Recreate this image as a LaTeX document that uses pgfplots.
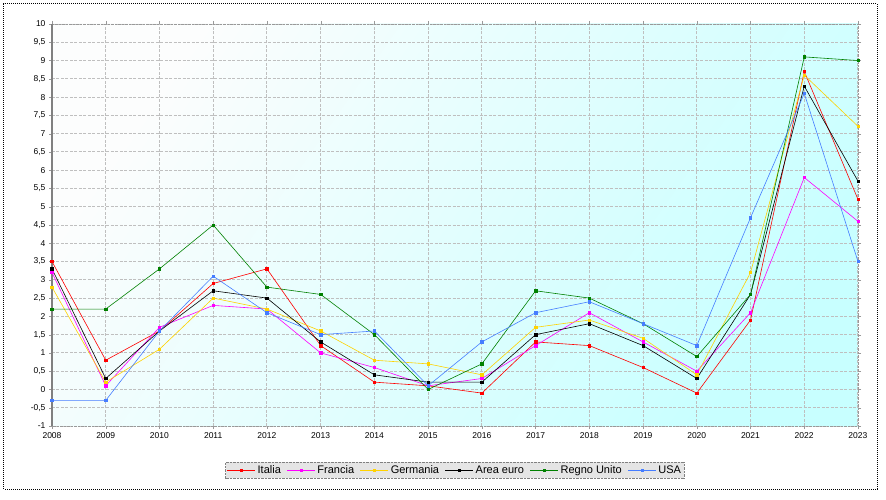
\documentclass[border=0pt]{standalone}
\usepackage{pgfplots}
\pgfplotsset{compat=1.18}
\usepackage{fontspec}
\setmainfont{Liberation Sans}
\definecolor{cItalia}{RGB}{255,0,0}
\definecolor{cFrancia}{RGB}{255,0,255}
\definecolor{cGermania}{RGB}{255,210,0}
\definecolor{cEuro}{RGB}{0,0,0}
\definecolor{cUK}{RGB}{0,128,0}
\definecolor{cUSA}{RGB}{70,125,255}
\definecolor{cyanbg}{RGB}{200,255,255}
\definecolor{whitebg}{RGB}{252,253,253}
\begin{document}
\begin{tikzpicture}[x=1pt,y=1pt]
\begin{axis}[
  at={(0,0)}, anchor=south west,
  scale only axis, width=806pt, height=402pt,
  xmin=2008, xmax=2023, ymin=-1, ymax=10,
  xtick={2008,...,2023},
  ytick={-1,-0.5,...,10},
  /pgf/number format/assume math mode=true,
  xticklabel style={/pgf/number format/1000 sep={}, font=\fontsize{8.5}{9}\selectfont},
  yticklabel style={/pgf/number format/use comma, font=\fontsize{8.5}{9}\selectfont},
  grid=major,
  major grid style={gray!50, dash pattern=on 3pt off 1.5pt, line width=0.9pt},
  axis line style={draw=gray!80, densely dotted},
  tick align=outside, major tick length=3pt,
  tick style={gray!80, solid},
  axis background/.style={top color=whitebg, bottom color=cyanbg, shading angle=55},
  legend columns=6,
  legend style={at={(0.5,-0.089)}, anchor=north, fill=gray!20, draw=gray, densely dotted,
    font=\fontsize{11}{12}\selectfont, inner sep=1.5pt,
    /tikz/every even column/.append style={column sep=4pt}},
  legend image code/.code={
    \draw[mark repeat=2, mark phase=2, #1] plot coordinates {(0pt,0pt) (14pt,0pt) (28pt,0pt)};},
  legend image post style={solid},
  every axis plot/.append style={line width=0.6pt, mark=square*, mark size=1.2pt, solid},
  clip=false,
]
\draw[gray, line width=1.3pt] (rel axis cs:0,0) -- (rel axis cs:0,1);
\addplot[color=cItalia] coordinates {(2008,3.5)(2009,0.8)(2010,1.6)(2011,2.9)(2012,3.3)(2013,1.2)(2014,0.2)(2015,0.1)(2016,-0.1)(2017,1.3)(2018,1.2)(2019,0.6)(2020,-0.1)(2021,1.9)(2022,8.7)(2023,5.2)};
\addlegendentry{Italia}
\addplot[color=cFrancia] coordinates {(2008,3.2)(2009,0.1)(2010,1.7)(2011,2.3)(2012,2.2)(2013,1.0)(2014,0.6)(2015,0.1)(2016,0.3)(2017,1.2)(2018,2.1)(2019,1.3)(2020,0.5)(2021,2.1)(2022,5.8)(2023,4.6)};
\addlegendentry{Francia}
\addplot[color=cGermania] coordinates {(2008,2.8)(2009,0.2)(2010,1.1)(2011,2.5)(2012,2.2)(2013,1.6)(2014,0.8)(2015,0.7)(2016,0.4)(2017,1.7)(2018,1.9)(2019,1.4)(2020,0.4)(2021,3.2)(2022,8.6)(2023,7.2)};
\addlegendentry{Germania}
\addplot[color=cEuro] coordinates {(2008,3.3)(2009,0.3)(2010,1.6)(2011,2.7)(2012,2.5)(2013,1.3)(2014,0.4)(2015,0.2)(2016,0.2)(2017,1.5)(2018,1.8)(2019,1.2)(2020,0.3)(2021,2.6)(2022,8.3)(2023,5.7)};
\addlegendentry{Area euro}
\addplot[color=cUK] coordinates {(2008,2.2)(2009,2.2)(2010,3.3)(2011,4.5)(2012,2.8)(2013,2.6)(2014,1.5)(2015,0.0)(2016,0.7)(2017,2.7)(2018,2.5)(2019,1.8)(2020,0.9)(2021,2.6)(2022,9.1)(2023,9.0)};
\addlegendentry{Regno Unito}
\addplot[color=cUSA] coordinates {(2008,-0.3)(2009,-0.3)(2010,1.6)(2011,3.1)(2012,2.1)(2013,1.5)(2014,1.6)(2015,0.1)(2016,1.3)(2017,2.1)(2018,2.4)(2019,1.8)(2020,1.2)(2021,4.7)(2022,8.1)(2023,3.5)};
\addlegendentry{USA}
\end{axis}
\draw[black, densely dotted, line width=1pt] (-48,-63) rectangle (825,422);
\useasboundingbox (-52,-73) rectangle (834,426);
\end{tikzpicture}
\end{document}
